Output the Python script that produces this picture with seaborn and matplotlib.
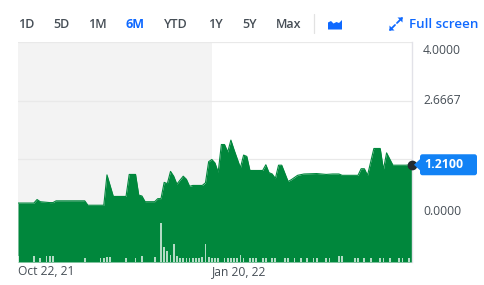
import numpy as np
import pandas as pd
import matplotlib
matplotlib.use("Agg")
import matplotlib.pyplot as plt
import matplotlib.transforms as mtransforms
from matplotlib.patches import Polygon, FancyBboxPatch
from matplotlib.lines import Line2D
import seaborn as sns

# ---------------- data ----------------
# trading-session index (0 = Oct 22, 2021) and closing price
session = [0, 5, 6, 7, 10, 11, 12, 21, 22, 27, 28, 30, 34, 35, 37, 38, 39, 40, 43, 44,
           45, 46, 47, 48, 49, 50, 52, 53, 54, 55, 58, 59, 60, 61, 62, 63, 64, 65, 66, 67,
           68, 70, 71, 72, 73, 77, 78, 79, 80, 81, 82, 83, 85, 86, 88, 90, 94, 97, 99, 101,
           102, 107, 108, 109, 110, 112, 114, 115, 116, 118, 122, 124]
price = [0.34, 0.34, 0.42, 0.37, 0.35, 0.35, 0.39, 0.39, 0.29, 0.29, 0.98, 0.49, 0.49, 0.99,
         0.99, 0.52, 0.50, 0.37, 0.37, 0.44, 0.44, 0.81, 0.78, 1.06, 0.95, 0.77, 0.95, 0.88,
         0.72, 0.74, 0.74, 0.80, 1.28, 1.33, 1.25, 1.04, 1.67, 1.67, 1.50, 1.77, 1.55, 1.14,
         1.43, 1.40, 1.08, 1.08, 1.21, 1.03, 1.00, 0.90, 1.20, 1.20, 0.83, 0.87, 0.97, 1.00,
         1.01, 0.99, 1.00, 1.00, 0.97, 0.97, 1.12, 1.12, 0.97, 1.58, 1.58, 1.10, 1.48, 1.20,
         1.20, 1.21]

# volume (thousands of shares)
vol_session = [0, 5, 7, 9, 10, 11, 21, 26, 27, 28, 29, 34, 37, 39, 43, 45, 46, 47, 48, 49,
               50, 51, 52, 53, 54, 55, 56, 57, 58, 59, 60, 61, 62, 63, 65, 66, 67, 68, 69, 70,
               71, 73, 74, 75, 77, 78, 80, 81, 84, 85, 87, 89, 91, 93, 94, 97, 98, 101, 102,
               106, 107, 109, 111, 114, 115, 117, 120, 121, 123]
volume = [120, 120, 90, 120, 120, 120, 80, 85, 85, 100, 100, 80, 80, 120, 100, 780, 300, 220,
          140, 360, 120, 90, 80, 90, 80, 80, 80, 80, 100, 360, 100, 80, 90, 90, 90, 90, 90, 90,
          90, 140, 90, 90, 90, 90, 90, 90, 90, 90, 90, 90, 90, 90, 90, 90, 90, 90, 90, 120,
          120, 90, 90, 90, 90, 90, 90, 90, 90, 90, 90]

x_tick_pos = [0, 61]
x_tick_labels = ["Oct 22, 21", "Jan 20, 22"]
y_ticks = [0.0, 4 / 3, 8 / 3, 4.0]
y_labelled = {0.0: "0.0000", 8 / 3: "2.6667", 4.0: "4.0000"}
last_price_label = "1.2100"
ranges = ["1D", "5D", "1M", "6M", "YTD", "1Y", "5Y", "Max"]
active_range = "6M"

# ---------------- style ----------------
GREEN = "#00873c"
TXT = "#464e56"
BLUE = "#0f69ff"
TAG = "#1282f5"

sns.set_theme(style="white")
plt.rcParams["font.family"] = ["Open Sans", "DejaVu Sans"]

W, H = 485, 285
fig = plt.figure(figsize=(W / 100, H / 100), dpi=100)
fig.patch.set_facecolor("white")

L, R, T, B = 18, 412, 42, 262
ax = fig.add_axes([L / W, 1 - B / H, (R - L) / W, (B - T) / H])
ax.set_facecolor("white")

df = pd.DataFrame({"session": session, "price": price})

# history shading
ax.axvspan(x_tick_pos[0], x_tick_pos[1], color="#f3f3f3", lw=0, zorder=0)
for yv in y_ticks[1:]:
    ax.axhline(yv, color="#e9e9e9", lw=0.9, zorder=0.5)

ymin, ymax = -1.0, 4.0
ax.fill_between(df["session"], df["price"], ymin, color=GREEN, lw=0, zorder=2)
sns.lineplot(data=df, x="session", y="price", color=GREEN, lw=0.8, ax=ax, zorder=3)

ax.set_xlim(0, 124)
ax.set_ylim(ymin, ymax)
ax.set_xlabel("")
ax.set_ylabel("")

for s in ["top", "left", "bottom"]:
    ax.spines[s].set_visible(False)
ax.spines["right"].set_color("#e2e2e8")
ax.spines["right"].set_linewidth(1.0)

ax.set_xticks(x_tick_pos)
ax.set_xticklabels(x_tick_labels, ha="left", color=TXT, fontsize=8.7)
ax.tick_params(axis="x", length=0, pad=2.5)
ax.set_yticks([])

# y labels on the right
ytr = ax.get_yaxis_transform()
for yv, lab in y_labelled.items():
    dy = 0
    if yv == 4.0:
        dy = -6
    elif yv == 0.0:
        dy = 4.5
    ax.annotate(lab, xy=(1, yv), xycoords=ytr, xytext=(8, dy), textcoords="offset points",
                ha="left", va="center", color=TXT, fontsize=8.7, annotation_clip=False)

# volume on twin axis
ax2 = ax.twinx()
ax2.bar(vol_session, volume, width=0.55, color="white", alpha=0.7, lw=0, zorder=4)
ax2.set_ylim(0, 4400)
ax2.set_yticks([])
ax2.set_ylabel("")
for s in ax2.spines.values():
    s.set_visible(False)
ax2.set_xlim(0, 124)

# last price dot and tag
lx, ly = session[-1], price[-1]
ax2.plot([lx], [ly], transform=ax.transData, marker="o", ms=6, color="#232a31",
         clip_on=False, zorder=10)
px, py = ax.transData.transform((lx, ly))
tr = mtransforms.Affine2D().translate(px, py)
tri = Polygon([(2, 0), (9, 6.5), (9, -6.5)], closed=True, transform=tr, fc=TAG, ec="none")
fig.patches.append(tri)
box = FancyBboxPatch((8, -10.5), 57, 21, boxstyle="round,pad=0,rounding_size=2.5",
                     transform=tr, fc=TAG, ec="none")
fig.patches.append(box)
fig.text(px + 12, py, last_price_label, transform=None, ha="left", va="center",
         color="white", fontsize=8.9, fontweight="bold")

# ---------------- toolbar ----------------
def fx(x):
    return x / W

def fy(y):
    return 1 - y / H

lefts = [18, 53, 88, 126, 164, 208, 242, 276]
for lab, xl in zip(ranges, lefts):
    active = lab == active_range
    fig.text(fx(xl), fy(24), lab, ha="left", va="center", fontsize=9,
             color=BLUE if active else TXT, fontweight="bold" if active else "semibold")

fig.add_artist(Line2D([fx(314), fx(314)], [fy(14), fy(33)], color="#e2e2e2", lw=0.9))
icon = Polygon([(fx(328), fy(29.5)), (fx(328), fy(22.5)), (fx(331), fy(21)), (fx(333.5), fy(23.5)),
                (fx(336.5), fy(22)), (fx(339), fy(23)), (fx(342), fy(20)), (fx(342), fy(29.5))],
               closed=True, transform=fig.transFigure, fc=BLUE, ec="none")
fig.patches.append(icon)

# full-screen arrows
for (x0, y0, x1, y1) in [(397, 23, 402, 18), (395, 25, 390, 30)]:
    fig.add_artist(Line2D([fx(x0), fx(x1)], [fy(y0), fy(y1)], color=BLUE, lw=1.3))
tri1 = Polygon([(fx(402.5), fy(17.5)), (fx(397.5), fy(17.5)), (fx(402.5), fy(22.5))],
               closed=True, transform=fig.transFigure, fc=BLUE, ec="none")
tri2 = Polygon([(fx(389.5), fy(30.5)), (fx(394.5), fy(30.5)), (fx(389.5), fy(25.5))],
               closed=True, transform=fig.transFigure, fc=BLUE, ec="none")
fig.patches.extend([tri1, tri2])
fig.text(fx(409), fy(24), "Full screen", ha="left", va="center", fontsize=9.6,
         color=BLUE, fontweight="semibold")

fig.savefig("out.png", dpi=100)
